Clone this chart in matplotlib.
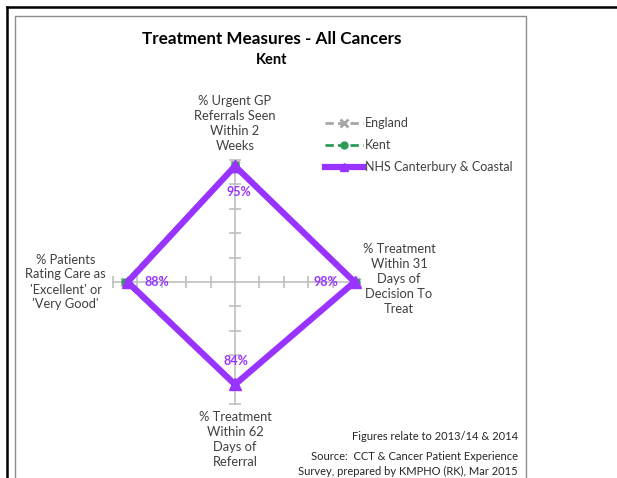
import numpy as np
import matplotlib
matplotlib.use("Agg")
import matplotlib.pyplot as plt
from matplotlib.lines import Line2D
from matplotlib.patches import Rectangle

plt.rcParams['font.family'] = ['Lato', 'DejaVu Sans']

# data
categories = ["% Urgent GP\nReferrals Seen\nWithin 2\nWeeks",
              "% Treatment\nWithin 31\nDays of\nDecision To\nTreat",
              "% Treatment\nWithin 62\nDays of\nReferral",
              "% Patients\nRating Care as\n'Excellent' or\n'Very Good'"]
england = [0.96, 0.99, 0.85, 0.90]
kent = [0.96, 0.99, 0.85, 0.90]
nhs_cc = [0.95, 0.98, 0.84, 0.88]
nhs_labels = ["95%", "98%", "84%", "88%"]
ticks = [0.2, 0.4, 0.6, 0.8, 1.0]

grey = '#A6A6A6'
green = '#2E9A5C'
purple = '#9933FF'

fig = plt.figure(figsize=(6.17, 4.78), dpi=100)

# frames round the chart
fig.add_artist(Line2D([7/617, 1], [1-7/478, 1-7/478], color='black', lw=1.8))
fig.add_artist(Line2D([7/617, 7/617], [0, 1-7/478], color='black', lw=1.8))
fig.add_artist(Rectangle((15/617, -0.05), (526-15)/617, 1.05-16/478,
                         fill=False, ec='#8C8C8C', lw=1))

ax = fig.add_axes([113/617, 74/478, 244/617, 244/478], projection='polar')
ax.set_theta_offset(np.pi/2)
ax.set_theta_direction(-1)
ax.set_ylim(0, 1)
ax.grid(False)
ax.spines['polar'].set_visible(False)
ax.set_xticks([])
ax.set_yticks([])
ax.patch.set_alpha(0)

n = len(categories)
theta = np.arange(n) * 2*np.pi/n

# spokes with tick marks
for i, t in enumerate(theta):
    ax.plot([t, t], [0, 1], color='#BFBFBF', lw=1.2, zorder=1, clip_on=False)
    mk = '_' if i % 2 == 0 else '|'
    ax.plot([t]*len(ticks), ticks, ls='none', marker=mk, ms=9, mew=1.2,
            color='#BFBFBF', zorder=1, clip_on=False)

th = np.append(theta, theta[0])
l1, = ax.plot(th, england + england[:1], color=grey, lw=2, ls=(0, (3, 1.5)),
              marker='x', ms=6, mew=2, clip_on=False, zorder=2)
l2, = ax.plot(th, kent + kent[:1], color=green, lw=2, ls=(0, (3, 1.5)),
              marker='o', ms=5, clip_on=False, zorder=3)
l3, = ax.plot(th, nhs_cc + nhs_cc[:1], color=purple, lw=4.5,
              marker='^', ms=8, clip_on=False, zorder=4)

# data labels
offs = [(3, -19), (-21, 0), (1, 17), (21, 0)]
for t, v, s, o in zip(theta, nhs_cc, nhs_labels, offs):
    ax.annotate(s, (t, v), xytext=o, textcoords='offset points', ha='center',
                va='center', color=purple, fontsize=9, fontweight='bold')

# category labels
cat_pos = [((0, 6), 'center', 'bottom'), ((4, 2), 'left', 'center'),
           ((0, -5), 'center', 'top'), ((-5, 0), 'right', 'center')]
for t, c, (o, ha, va) in zip(theta, categories, cat_pos):
    ax.annotate(c, (t, 1), xytext=o, textcoords='offset points', ha=ha, va=va,
                multialignment='center', fontsize=9.3, color='#404040',
                linespacing=1.3)

fig.text(272/617, 1-39/478, "Treatment Measures - All Cancers", ha='center',
         va='center', fontsize=12.3, fontweight='bold')
fig.text(272/617, 1-60/478, "Kent", ha='center', va='center', fontsize=10.5,
         fontweight='bold')

leg = fig.legend([l1, l2, l3], ["England", "Kent", "NHS Canterbury & Coastal"],
                 loc='upper left', bbox_to_anchor=(325/617, 1-117/478),
                 frameon=False, fontsize=9, handlelength=3.0,
                 handletextpad=0.2, labelspacing=0.8, borderpad=0,
                 borderaxespad=0, labelcolor='#404040')
for h, ms in zip(leg.legend_handles, [6, 5, 6]):
    h.set_markersize(ms)

fig.text(518/617, 1-437/478, "Figures relate to 2013/14 & 2014", ha='right',
         va='center', fontsize=8, color='#262626')
fig.text(518/617, 1-456/478, "Source:  CCT & Cancer Patient Experience",
         ha='right', va='center', fontsize=8, color='#262626')
fig.text(518/617, 1-471/478, "Survey, prepared by KMPHO (RK), Mar 2015",
         ha='right', va='center', fontsize=8, color='#262626')

fig.savefig("out.png", dpi=100)
